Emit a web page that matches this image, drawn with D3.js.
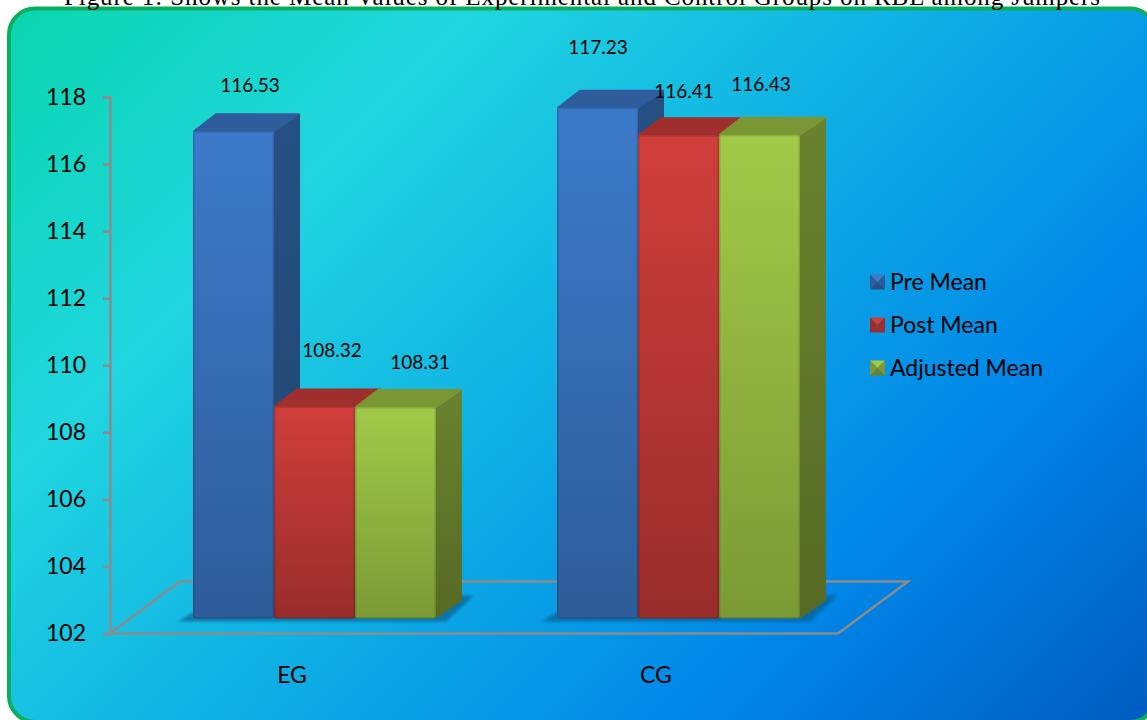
<!DOCTYPE html>
<html>
<head>
<meta charset="utf-8">
<script src="https://cdn.jsdelivr.net/npm/d3@7"></script>
<style>
  html, body { margin: 0; padding: 0; background: #fff; overflow: hidden; }
  svg { display: block; }
  text { font-family: Lato, "Open Sans", sans-serif; fill: #000; }
  .fig-title { font-family: "Liberation Serif", serif; font-size: 25px; }
</style>
</head>
<body>
<div id="chart"></div>
<script>
const categories = ["EG", "CG"];
const seriesNames = ["Pre Mean", "Post Mean", "Adjusted Mean"];
const preMean = [116.53, 117.23];
const postMean = [108.32, 116.41];
const adjustedMean = [108.31, 116.43];
const yTicks = [102, 104, 106, 108, 110, 112, 114, 116, 118];
const seriesValues = [preMean, postMean, adjustedMean];

// front, top, side colours for each series
const seriesColors = [
    { light: "#3c7bca", dark: "#2d5c98", top: "#2f5c9a", side: "#264f84", sideDark: "#21466f" },
    { light: "#d03e3a", dark: "#982d2b", top: "#9e2f2d", side: "#9e2f2d", sideDark: "#8a2725" },
    { light: "#a2ca48", dark: "#7b9a35", top: "#7b9634", side: "#6a822f", sideDark: "#566a25" }
];

const width = 1147, height = 720;
const depth = { x: 26, y: -18 };      // how far a bar's side goes back
const floorDepth = { x: 70, y: -52 }; // the floor parallelogram
const barShift = { x: 22, y: -15 };   // bars stand in the middle of the floor

const svg = d3.select("#chart").append("svg")
    .attr("width", width)
    .attr("height", height);

const defs = svg.append("defs");

// Panel background
const bg = defs.append("linearGradient")
    .attr("id", "panelGradient")
    .attr("gradientUnits", "userSpaceOnUse")
    .attr("x1", 0).attr("y1", 0)
    .attr("x2", 933).attr("y2", 933);
bg.append("stop").attr("offset", "1%").attr("stop-color", "#0ad6ae");
bg.append("stop").attr("offset", "26%").attr("stop-color", "#20d6e0");
bg.append("stop").attr("offset", "50%").attr("stop-color", "#0fb0e4");
bg.append("stop").attr("offset", "76%").attr("stop-color", "#0086e8");
bg.append("stop").attr("offset", "100%").attr("stop-color", "#005cc0");

seriesColors.forEach((c, i) => {
    const front = defs.append("linearGradient")
        .attr("id", "front" + i)
        .attr("x1", "0%").attr("y1", "0%").attr("x2", "0%").attr("y2", "100%");
    front.append("stop").attr("offset", "0%").attr("stop-color", c.light);
    front.append("stop").attr("offset", "100%").attr("stop-color", c.dark);
    const side = defs.append("linearGradient")
        .attr("id", "side" + i)
        .attr("x1", "0%").attr("y1", "0%").attr("x2", "0%").attr("y2", "100%");
    side.append("stop").attr("offset", "0%").attr("stop-color", c.side);
    side.append("stop").attr("offset", "100%").attr("stop-color", c.sideDark);
});

const shadowBlur = defs.append("filter").attr("id", "shadowBlur")
    .attr("x", "-10%").attr("y", "-30%").attr("width", "120%").attr("height", "160%");
shadowBlur.append("feGaussianBlur").attr("stdDeviation", 1.5);

svg.append("rect")
    .attr("x", 9).attr("y", 8.5)
    .attr("width", 1147).attr("height", 713.5)
    .attr("rx", 26).attr("ry", 26)
    .attr("fill", "url(#panelGradient)")
    .attr("stroke", "#0aae5c")
    .attr("stroke-width", 4);

svg.append("text")
    .attr("class", "fig-title")
    .attr("x", 64).attr("y", 5)
    .attr("textLength", 1036)
    .attr("lengthAdjust", "spacing")
    .text("Figure 1: Shows the Mean Values of Experimental and Control Groups on RBL among Jumpers");

// Scales
const x = d3.scaleBand().domain(categories).range([110, 838]);
const y = d3.scaleLinear().domain([102, 118]).range([633.5, 97]);
const xSeries = d3.scaleBand().domain(d3.range(seriesNames.length)).range([0, 243]);

const axisColor = "#8c8c8c";

// Floor
const floorBase = y(102);
svg.append("path")
    .attr("d", `M${x.range()[0]},${floorBase}`
        + `L${x.range()[0] + floorDepth.x},${floorBase + floorDepth.y}`
        + `L${x.range()[1] + floorDepth.x},${floorBase + floorDepth.y}`
        + `L${x.range()[1]},${floorBase}Z`)
    .attr("fill", "none")
    .attr("stroke", axisColor)
    .attr("stroke-width", 2.5);

// Y axis
const yAxis = d3.axisLeft(y).tickValues(yTicks).tickSize(7).tickPadding(17);
const yAxisG = svg.append("g")
    .attr("transform", `translate(${x.range()[0]},0)`)
    .call(yAxis);
yAxisG.selectAll("path, line").attr("stroke", axisColor).attr("stroke-width", 2.5);
yAxisG.selectAll("text").style("font-size", "23px").attr("fill", "#000");

// X axis labels
const xAxis = d3.axisBottom(x).tickSize(0).tickPadding(33);
const xAxisG = svg.append("g")
    .attr("transform", `translate(0,${floorBase})`)
    .call(xAxis);
xAxisG.select(".domain").remove();
xAxisG.selectAll("text").style("font-size", "23px").attr("fill", "#000");

// Data labels sit by hand around the bars: [dx, dy] from the top centre of each front face
const labelOffsets = [
    [[16.5, -39], [0.5, -54]],
    [[17.5, -50], [5.5, -37]],
    [[24.5, -38], [1.5, -44]]
];

categories.forEach((cat, ci) => {
    const groupLeft = x(cat) + x.bandwidth() / 2 + barShift.x - 121;

    // Shadow on the floor
    svg.append("path")
        .attr("d", () => {
            const x0 = groupLeft - 15, x1 = groupLeft + 243, b = floorBase + barShift.y;
            return `M${x0},${b + 3}L${x0 + 15},${b - 6}L${x1},${b - 6}L${x1 + 26},${b - 23}L${x1 + 38},${b - 23}L${x1 + 10},${b + 3}Z`;
        })
        .attr("fill", "#075f8e")
        .attr("opacity", 0.7)
        .attr("filter", "url(#shadowBlur)");

    seriesValues.forEach((values, si) => {
        const left = groupLeft + xSeries(si);
        const w = xSeries.bandwidth();
        const top = y(values[ci]) + barShift.y;
        const bottom = floorBase + barShift.y;
        const c = seriesColors[si];

        // Right side
        svg.append("path")
            .attr("d", `M${left + w},${top}L${left + w + depth.x},${top + depth.y}`
                + `L${left + w + depth.x},${bottom + depth.y}L${left + w},${bottom}Z`)
            .attr("fill", `url(#side${si})`);
        // Top
        svg.append("path")
            .attr("d", `M${left + 1},${top}L${left + depth.x - 3},${top + depth.y + 1}`
                + `L${left + w + depth.x - 1},${top + depth.y + 1}L${left + w},${top}Z`)
            .attr("fill", c.top)
            .attr("stroke", c.top)
            .attr("stroke-width", 2)
            .attr("stroke-linejoin", "round");
        // Front
        svg.append("rect")
            .attr("x", left).attr("y", top)
            .attr("width", w).attr("height", bottom - top)
            .attr("rx", 3)
            .attr("fill", `url(#front${si})`);
        // Bevel edge
        svg.append("rect")
            .attr("x", left + 0.75).attr("y", top + 0.75)
            .attr("width", w - 1.5).attr("height", bottom - top - 1.5)
            .attr("rx", 2)
            .attr("fill", "none")
            .attr("stroke", "#000")
            .attr("stroke-opacity", 0.14)
            .attr("stroke-width", 1.5);
    });
});

// Data labels go on last
seriesValues.forEach((values, si) => {
    values.forEach((v, ci) => {
        const left = x(categories[ci]) + x.bandwidth() / 2 + barShift.x - 121 + xSeries(si);
        const off = labelOffsets[si][ci];
        svg.append("text")
            .attr("x", left + xSeries.bandwidth() / 2 + off[0])
            .attr("y", y(v) + barShift.y + off[1])
            .attr("text-anchor", "middle")
            .style("font-size", "19px")
            .text(v.toFixed(2));
    });
});

// Legend
const legendY = d3.scalePoint().domain(seriesNames).range([282, 368]);
seriesNames.forEach((name, i) => {
    const c = seriesColors[i];
    const cy = legendY(name), s = 15, x0 = 870, y0 = cy - 7.5;
    const cx = x0 + s / 2;
    const tris = [
        { d: `M${x0},${y0}L${x0 + s},${y0}L${cx},${cy}Z`, fill: c.light },
        { d: `M${x0},${y0}L${cx},${cy}L${x0},${y0 + s}Z`, fill: c.dark },
        { d: `M${x0 + s},${y0}L${cx},${cy}L${x0 + s},${y0 + s}Z`, fill: c.dark },
        { d: `M${x0},${y0 + s}L${cx},${cy}L${x0 + s},${y0 + s}Z`, fill: c.side }
    ];
    tris.forEach(t => svg.append("path").attr("d", t.d).attr("fill", t.fill));
    svg.append("text")
        .attr("x", 890).attr("y", cy)
        .attr("dy", "0.35em")
        .style("font-size", "23px")
        .text(name);
});
</script>
</body>
</html>
